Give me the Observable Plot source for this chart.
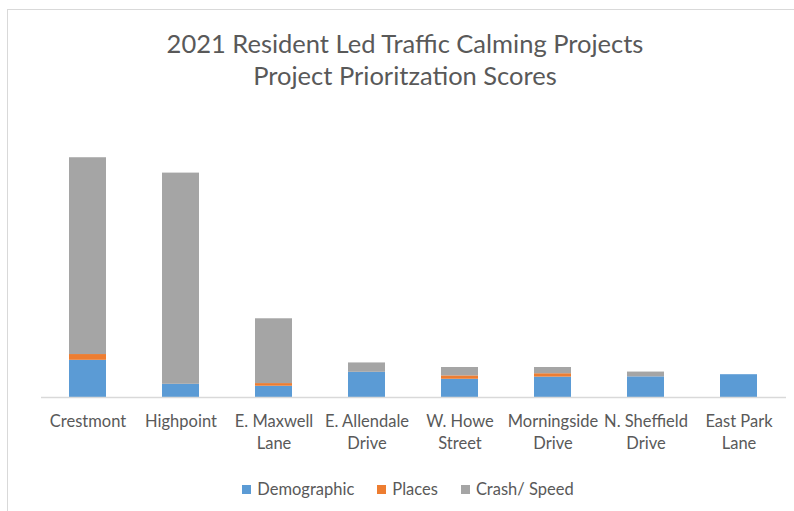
<!DOCTYPE html>
<html>
<head>
<meta charset="utf-8">
<script src="https://cdn.jsdelivr.net/npm/d3@7"></script>
<script src="https://cdn.jsdelivr.net/npm/@observablehq/plot@0.6"></script>
<style>
  html, body { margin: 0; padding: 0; background: #fff; }
  #wrap { position: relative; width: 794px; height: 511px; overflow: hidden; font-family: Lato, "Open Sans", sans-serif; color: #595959; }
  #frame { position: absolute; left: 7px; top: 9px; width: 800px; height: 520px; border-top: 1px solid #d9d9d9; border-left: 1px solid #d9d9d9; }
  #title { position: absolute; left: 0; width: 810px; top: 27px; text-align: center; font-size: 25.5px; line-height: 32px; color: #595959; }
  #chart { position: absolute; left: 0; top: 0; }
  #legend { position: absolute; top: 479px; left: 0; width: 816px; display: flex; justify-content: center; font-size: 16.5px; color: #595959; }
  .item { display: flex; align-items: center; margin: 0 11.5px; }
  .sw { width: 9px; height: 9px; margin-right: 6px; }
</style>
</head>
<body>
<div id="wrap">
  <div id="frame"></div>
  <div id="chart"></div>
  <div id="title">2021 Resident Led Traffic Calming Projects<br>Project Prioritzation Scores</div>
  <div id="legend"></div>
</div>
<script>
const categories = ["Crestmont", "Highpoint", "E. Maxwell Lane", "E. Allendale Drive", "W. Howe Street", "Morningside Drive", "N. Sheffield Drive", "East Park Lane"];
const tickLabels = ["Crestmont", "Highpoint", "E. Maxwell\nLane", "E. Allendale\nDrive", "W. Howe\nStreet", "Morningside\nDrive", "N. Sheffield\nDrive", "East Park\nLane"];
const seriesNames = ["Demographic", "Places", "Crash/ Speed"];
const seriesColors = ["#5b9bd5", "#ed7d31", "#a5a5a5"];
const demographic = [15.5, 5.5, 4.7, 10.5, 7.6, 8.5, 8.6, 9.5];
const places      = [2.4, 0, 1.1, 0, 1.4, 1.4, 0, 0];
const crashSpeed  = [82, 88, 27, 3.9, 3.5, 2.6, 2.0, 0];

const seriesValues = [demographic, places, crashSpeed];
const data = [];
categories.forEach((c, i) => {
  seriesNames.forEach((s, j) => data.push({category: c, series: s, value: seriesValues[j][i]}));
});
const labelOf = new Map(categories.map((c, i) => [c, tickLabels[i]]));

const chart = Plot.plot({
  width: 794,
  height: 460,
  marginTop: 157,
  marginBottom: 63,
  marginLeft: 41,
  marginRight: 8,
  style: {background: "transparent", color: "#595959", fontFamily: "Lato, 'Open Sans', sans-serif"},
  x: {domain: categories, paddingInner: 0.6, paddingOuter: 0.3, axis: null},
  y: {domain: [0, 100], axis: null},
  color: {domain: seriesNames, range: seriesColors},
  marks: [
    Plot.barY(data, {x: "category", y: "value", fill: "series", order: seriesNames}),
    Plot.ruleY([0], {stroke: "#d9d9d9", strokeWidth: 1.5}),
    Plot.axisX({tickSize: 0, tickPadding: 13, fontSize: 16.5, lineHeight: 1.38, label: null, tickFormat: d => labelOf.get(d), fill: "#595959"})
  ]
});
document.getElementById("chart").appendChild(chart);

const legend = document.getElementById("legend");
seriesNames.forEach((s, i) => {
  const item = document.createElement("div");
  item.className = "item";
  const sw = document.createElement("span");
  sw.className = "sw";
  sw.style.background = seriesColors[i];
  const t = document.createElement("span");
  t.textContent = s;
  item.appendChild(sw);
  item.appendChild(t);
  legend.appendChild(item);
});
</script>
</body>
</html>
